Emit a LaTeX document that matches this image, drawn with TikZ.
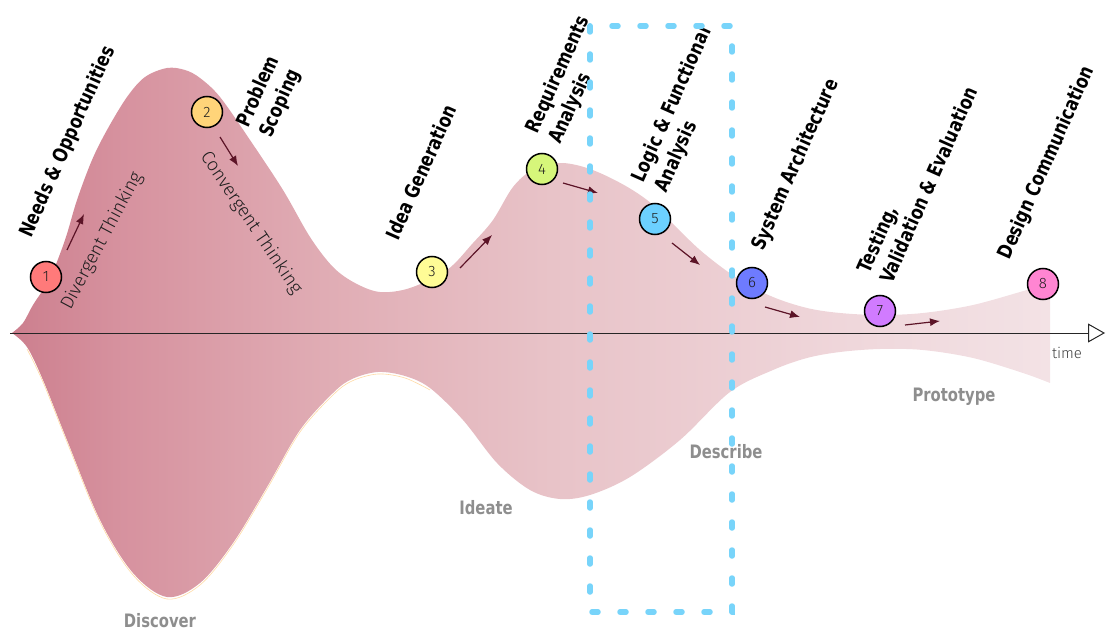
\documentclass[tikz,border=0pt]{standalone}
\usepackage{fontspec}
\usetikzlibrary{arrows.meta}

\newfontfamily\labelfont{DejaVu Sans}[FakeStretch=0.80]
\newfontfamily\thinfont{Fira Sans Light}

\definecolor{roseA}{RGB}{204,127,142}
\definecolor{roseB}{RGB}{214,145,158}
\definecolor{roseC}{RGB}{224,172,180}
\definecolor{roseD}{RGB}{232,195,200}
\definecolor{roseE}{RGB}{240,217,221}
\definecolor{roseF}{RGB}{243,226,229}
\definecolor{arrowred}{RGB}{92,20,39}
\definecolor{phasegray}{RGB}{142,142,142}
\definecolor{numgray}{RGB}{30,30,30}
\definecolor{boxblue}{RGB}{120,212,250}
\definecolor{rimorange}{RGB}{255,218,165}
\definecolor{cOne}{RGB}{255,122,122}
\definecolor{cTwo}{RGB}{255,212,121}
\definecolor{cThree}{RGB}{255,252,150}
\definecolor{cFour}{RGB}{214,246,122}
\definecolor{cFive}{RGB}{108,208,255}
\definecolor{cSix}{RGB}{110,123,255}
\definecolor{cSeven}{RGB}{209,123,255}
\definecolor{cEight}{RGB}{255,133,210}

\pgfdeclarehorizontalshading{rosefade}{100bp}{%
  color(0bp)=(roseA); color(25bp)=(roseA); color(30bp)=(roseB);
  color(40bp)=(roseC); color(51bp)=(roseD); color(67bp)=(roseE);
  color(75bp)=(roseF); color(100bp)=(roseF)}

\begin{document}
\begin{tikzpicture}[x=1pt,y=-1pt,
  stage/.style={font=\labelfont\bfseries\fontsize{20}{25}\selectfont,
    align=left, rotate=66, inner sep=0pt},
  phase/.style={font=\labelfont\bfseries\fontsize{18.5}{20}\selectfont,
    text=phasegray, inner sep=0pt},
  stepnum/.style={circle, draw=black, line width=1.5pt, minimum size=31pt,
    inner sep=0pt, font=\thinfont\fontsize{15}{15}\selectfont, text=numgray},
  flow/.style={draw=arrowred, line width=1.2pt,
    -{Latex[length=10pt,width=8pt]}},
  think/.style={font=\thinfont\fontsize{18.5}{20}\selectfont, text=numgray,
    inner sep=0pt},
  descbox/.style={draw=boxblue, line width=5.5pt, line cap=round,
    dash pattern=on 6pt off 22pt},
]
\useasboundingbox (0,0) rectangle (1106,631);

% funnel of the design process
\shade[shading=rosefade]
  plot[smooth,tension=0.55] coordinates {
    (12,333) (23,323) (33,305) (50,278) (65,240) (77,200) (92,160)
    (107,130) (127,97) (145,77) (167,68) (185,70) (200,78) (220,97)
    (250,140) (283,190) (310,237) (333,267) (355,283) (380,292)
    (410,288) (447,270) (473,243) (493,220) (513,187) (533,170)
    (563,163) (600,173) (647,200) (700,250) (740,280) (773,297)
    (807,308) (840,313) (880,315) (923,313) (973,305) (1027,290)
    (1050,284)}
  -- plot[smooth,tension=0.55] coordinates {
    (1050,383) (1023,373) (973,358) (923,350) (880,349) (840,352)
    (807,358) (773,370) (730,392) (680,440) (630,477) (590,495)
    (560,499) (530,490) (497,463) (463,420) (430,388) (405,376)
    (378,372) (352,379) (333,393) (300,430) (267,487) (233,543)
    (200,583) (167,597) (133,573) (100,520) (67,440) (43,380)
    (27,347) (12,333)}
  -- cycle;

% thin warm rim under the first part of the lower edge
\draw[rimorange, line width=0.6pt, shift={(0,2)}]
  plot[smooth,tension=0.55] coordinates {
    (27,347) (43,380) (67,440) (100,520) (133,573) (167,597) (200,583)
    (233,543) (267,487) (300,430) (333,393) (352,379) (378,372)
    (405,376) (430,388)};

% time axis
\coordinate (t0) at (10,333);
\coordinate (t1) at (1105,333);
\draw[line width=1pt, draw=black!85,
  -{Triangle[open,length=17pt,width=19pt]}] (t0) -- (t1);
\node[font=\thinfont\fontsize{15}{15}\selectfont, text=black!75,
  inner sep=0pt] (time) at (1067,353) {time};

% stage titles
\node[stage] (l1) at (68,142) {Needs \& Opportunities};
\node[stage] (l2) at (270,97) {Problem\\Scoping};
\node[stage] (l3) at (421,172) {Idea Generation};
\node[stage] (l4) at (570,80) {Requirements\\Analysis};
\node[stage] (l5) at (684,110) {Logic \& Functional\\Analysis};
\node[stage] (l6) at (796,165) {System Architecture};
\node[stage] (l7) at (917,180) {Testing,\\Validation \& Evaluation};
\node[stage] (l8) at (1047,163) {Design Communication};

% thinking modes
\node[think, rotate=62] (div) at (102,241) {Divergent Thinking};
\node[think, rotate=-56] (conv) at (251,223) {Convergent Thinking};

% phases
\node[phase] (ph1) at (160,621) {Discover};
\node[phase] (ph2) at (486,508) {Ideate};
\node[phase] (ph3) at (726,452) {Describe};
\node[phase] (ph4) at (954,397) {Prototype};

% progress arrows
\coordinate (a1s) at (67,250);  \coordinate (a1e) at (84,214);
\coordinate (a2s) at (220,137); \coordinate (a2e) at (238,166);
\coordinate (a3s) at (460,268); \coordinate (a3e) at (492,235);
\coordinate (a4s) at (563,183); \coordinate (a4e) at (598,193);
\coordinate (a5s) at (672,243); \coordinate (a5e) at (700,265);
\coordinate (a6s) at (765,307); \coordinate (a6e) at (800,317);
\coordinate (a7s) at (905,325); \coordinate (a7e) at (940,321);
\draw[flow] (a1s) -- (a1e);
\draw[flow] (a2s) -- (a2e);
\draw[flow] (a3s) -- (a3e);
\draw[flow] (a4s) -- (a4e);
\draw[flow] (a5s) -- (a5e);
\draw[flow] (a6s) -- (a6e);
\draw[flow] (a7s) -- (a7e);

% describe window
\coordinate (bx0) at (590,26);
\coordinate (bx1) at (732,612);
\draw[descbox] (bx0) rectangle (bx1);

% numbered steps
\node[stepnum, fill=cOne]   (s1) at (46,277)  {1};
\node[stepnum, fill=cTwo]   (s2) at (207,112) {2};
\node[stepnum, fill=cThree] (s3) at (432,272) {3};
\node[stepnum, fill=cFour]  (s4) at (542,169) {4};
\node[stepnum, fill=cFive]  (s5) at (655,219) {5};
\node[stepnum, fill=cSix]   (s6) at (752,283) {6};
\node[stepnum, fill=cSeven] (s7) at (880,311) {7};
\node[stepnum, fill=cEight] (s8) at (1043,284) {8};
\end{tikzpicture}
\end{document}
